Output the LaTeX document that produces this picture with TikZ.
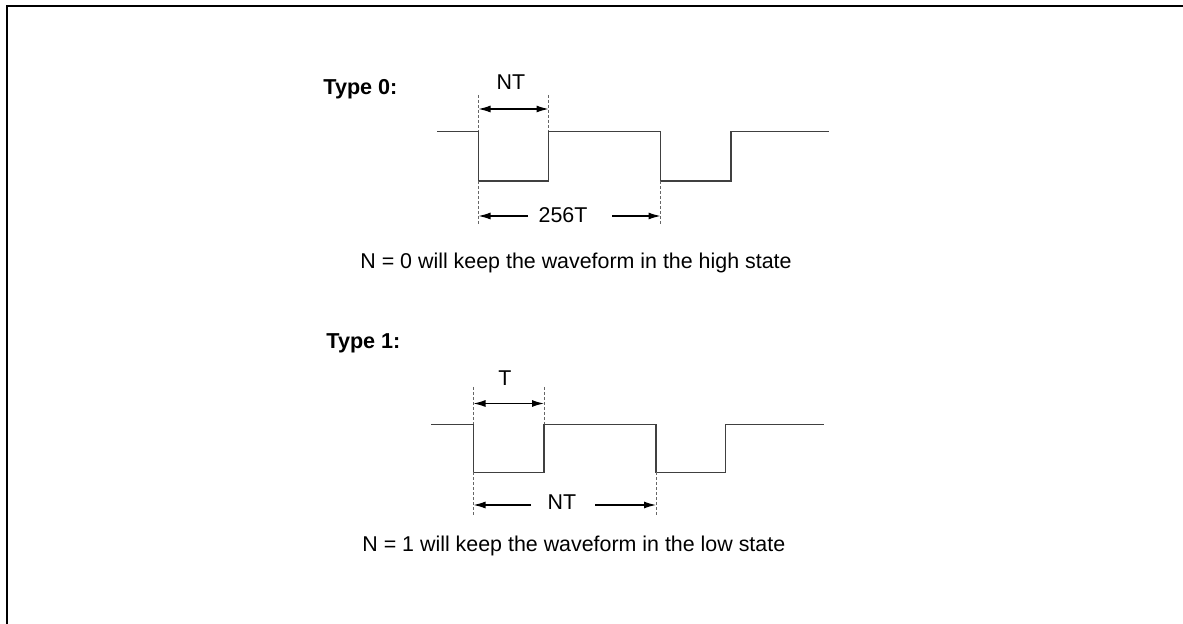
\documentclass[tikz,border=0pt]{standalone}
\usepackage{fontspec}
\setmainfont{Liberation Sans}
\usetikzlibrary{arrows.meta}
\begin{document}
\begin{tikzpicture}[x=0.5pt,y=-0.5pt,
  wave/.style={line width=0.55pt, draw=black!75},
  guide/.style={line width=0.5pt, draw=black!60, dash pattern=on 1.5pt off 1pt},
  dim/.style={line width=0.6pt, draw=black, -{Latex[length=6pt,width=3.5pt]}},
  dimboth/.style={line width=0.6pt, draw=black, {Latex[length=6pt,width=3.5pt]}-{Latex[length=6pt,width=3.5pt]}},
  lbl/.style={inner sep=0pt, font=\fontsize{10.7}{13}\selectfont},
  head/.style={inner sep=0pt, font=\fontsize{10.8}{13}\selectfont\bfseries},
  frame/.style={line width=1.2pt, draw=black}]
\useasboundingbox (0,0) rectangle (1183,624);
\draw[frame] (7,624) -- (7,6) -- (1183,6);

% ---------- Type 0 ----------
\node[head, anchor=base west] (t0) at (323,95) {Type 0:};
\coordinate (a0) at (437,131.5);
\coordinate (a1) at (478.5,131.5);
\coordinate (a2) at (478.5,181);
\coordinate (a3) at (548.5,181);
\coordinate (a4) at (548.5,131.5);
\coordinate (a5) at (660.5,131.5);
\coordinate (a6) at (660.5,181);
\coordinate (a7) at (731,181);
\coordinate (a8) at (731,131.5);
\coordinate (a9) at (829,131.5);
\draw[wave] (a0) -- (a1) -- (a2) -- (a3) -- (a4) -- (a5) -- (a6) -- (a7) -- (a8) -- (a9);
\coordinate (g1t) at (478.5,95);
\coordinate (g1b) at (478.5,225);
\coordinate (g2t) at (548.5,95);
\coordinate (g3b) at (660.5,225);
\draw[guide] (g1t) -- (a1);
\draw[guide] (a2) -- (g1b);
\draw[guide] (g2t) -- (a4);
\draw[guide] (a6) -- (g3b);
\coordinate (n0l) at (478.5,109);
\coordinate (n0r) at (548.5,109);
\draw[dimboth] (n0l) -- (n0r);
\node[lbl, anchor=base] (nt0) at (511,90) {NT};
\node[lbl, anchor=base] (d256) at (563,223) {256T};
\coordinate (d0l) at (478.5,216);
\coordinate (d0r) at (660.5,216);
\coordinate (d0a) at (528,216);
\coordinate (d0b) at (612,216);
\draw[dim] (d0a) -- (d0l);
\draw[dim] (d0b) -- (d0r);
\node[lbl, anchor=base west] (s0) at (360,269) {N = 0 will keep the waveform in the high state};

% ---------- Type 1 ----------
\node[head, anchor=base west] (t1) at (326,349) {Type 1:};
\coordinate (b0) at (431,424.5);
\coordinate (b1) at (473.5,424.5);
\coordinate (b2) at (473.5,472.5);
\coordinate (b3) at (544,472.5);
\coordinate (b4) at (544,424.5);
\coordinate (b5) at (656,424.5);
\coordinate (b6) at (656,472.5);
\coordinate (b7) at (725.5,472.5);
\coordinate (b8) at (725.5,424.5);
\coordinate (b9) at (824,424.5);
\draw[wave] (b0) -- (b1) -- (b2) -- (b3) -- (b4) -- (b5) -- (b6) -- (b7) -- (b8) -- (b9);
\coordinate (h1t) at (473.5,387);
\coordinate (h1b) at (473.5,515);
\coordinate (h2t) at (544,387);
\coordinate (h3b) at (656,515);
\draw[guide] (h1t) -- (b1);
\draw[guide] (b2) -- (h1b);
\draw[guide] (h2t) -- (b4);
\draw[guide] (b6) -- (h3b);
\coordinate (m1l) at (473.5,403.5);
\coordinate (m1r) at (544,403.5);
\draw[dimboth] (m1l) -- (m1r);
\node[lbl, anchor=base] (tt) at (505,386) {T};
\node[lbl, anchor=base] (nt1) at (562,510) {NT};
\coordinate (e1l) at (473.5,505);
\coordinate (e1r) at (656,505);
\coordinate (e1a) at (531,505);
\coordinate (e1b) at (595,505);
\draw[dim] (e1a) -- (e1l);
\draw[dim] (e1b) -- (e1r);
\node[lbl, anchor=base west] (s1) at (362,552) {N = 1 will keep the waveform in the low state};
\end{tikzpicture}
\end{document}
